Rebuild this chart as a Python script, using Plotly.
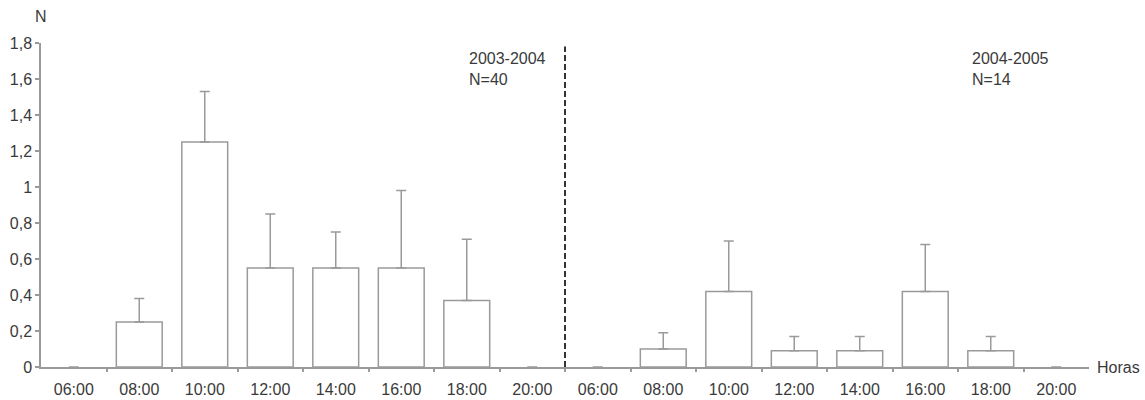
import plotly.graph_objects as go

# Hourly counts, two seasons side by side
hours = ["06:00", "08:00", "10:00", "12:00", "14:00", "16:00", "18:00", "20:00"]

mean_2003_2004 = [0, 0.25, 1.25, 0.55, 0.55, 0.55, 0.37, 0]
se_2003_2004 = [0, 0.13, 0.28, 0.30, 0.20, 0.43, 0.34, 0]

mean_2004_2005 = [0, 0.10, 0.42, 0.09, 0.09, 0.42, 0.09, 0]
se_2004_2005 = [0, 0.09, 0.28, 0.08, 0.08, 0.26, 0.08, 0]

season_labels = ["2003-2004<br>N=40", "2004-2005<br>N=14"]
y_ticks = [0, 0.2, 0.4, 0.6, 0.8, 1, 1.2, 1.4, 1.6, 1.8]
y_ticktext = ["0", "0,2", "0,4", "0,6", "0,8", "1", "1,2", "1,4", "1,6", "1,8"]

labels = hours + hours
means = mean_2003_2004 + mean_2004_2005
errs = se_2003_2004 + se_2004_2005
xpos = list(range(len(labels)))

TEXT = "#3a3a3a"
GREY = "#9a9a9a"
FONT = "Liberation Sans, Arial, sans-serif"

# empty hours get no outline, only the flat error cap at zero
outline_w = [1.5 if m > 0 else 0 for m in means]

fig = go.Figure()
fig.add_trace(go.Bar(
    x=xpos, y=means, width=0.7,
    marker=dict(color="white", line=dict(color=GREY, width=outline_w)),
    error_y=dict(type="data", array=errs, arrayminus=[0] * len(errs),
                 symmetric=False, color=GREY, thickness=1.5, width=5),
    showlegend=False, hoverinfo="skip",
))
# second x axis only carries the boundary ticks
fig.add_trace(go.Scatter(x=[-0.5, 15.5], y=[0, 0], xaxis="x2", mode="lines",
                         line=dict(color="rgba(0,0,0,0)"), showlegend=False,
                         hoverinfo="skip"))

fig.update_layout(
    width=1145, height=400,
    margin=dict(l=41, r=56, t=43, b=33),
    plot_bgcolor="white", paper_bgcolor="white",
    font=dict(family=FONT, size=16, color=TEXT),
    xaxis=dict(range=[-0.5, 15.5], tickvals=xpos, ticktext=labels,
               ticks="outside", ticklen=7, tickcolor="rgba(0,0,0,0)",
               automargin=False,
               showline=True, linecolor=GREY, linewidth=1.5,
               showgrid=False, zeroline=False,
               tickfont=dict(size=16, color=TEXT)),
    xaxis2=dict(range=[-0.5, 15.5], overlaying="x", side="bottom",
                tickvals=[i + 0.5 for i in range(len(labels) - 1)],
                showticklabels=False, ticks="outside", ticklen=4,
                tickcolor=GREY, tickwidth=1.5, showgrid=False,
                automargin=False, zeroline=False, showline=False),
    yaxis=dict(range=[0, 1.8], tickvals=y_ticks, ticktext=y_ticktext,
               ticks="outside", ticklen=4, tickcolor=GREY, tickwidth=1.5,
               automargin=False,
               showline=True, linecolor=GREY, linewidth=1.5,
               showgrid=False, zeroline=False,
               tickfont=dict(size=16, color=TEXT)),
)

# separator between the two seasons
fig.add_shape(type="line", xref="x", yref="y", x0=7.5, x1=7.5, y0=0, y1=1.78,
              line=dict(color="#333333", width=2, dash="6px,3px"))

for xa, txt in zip([6.0, 13.68], season_labels):
    fig.add_annotation(x=xa, y=1.77, xref="x", yref="y", text=txt,
                       showarrow=False, xanchor="left", yanchor="top",
                       align="left", font=dict(size=16, color=TEXT))

fig.add_annotation(x=0, y=1, xref="paper", yref="paper", text="N",
                   showarrow=False, xanchor="center", yanchor="bottom",
                   yshift=16, font=dict(size=16, color=TEXT))
fig.add_annotation(x=1, y=0, xref="paper", yref="paper", text="Horas",
                   showarrow=False, xanchor="left", yanchor="middle",
                   xshift=6, font=dict(size=16, color=TEXT))

fig.write_html("out.html")
